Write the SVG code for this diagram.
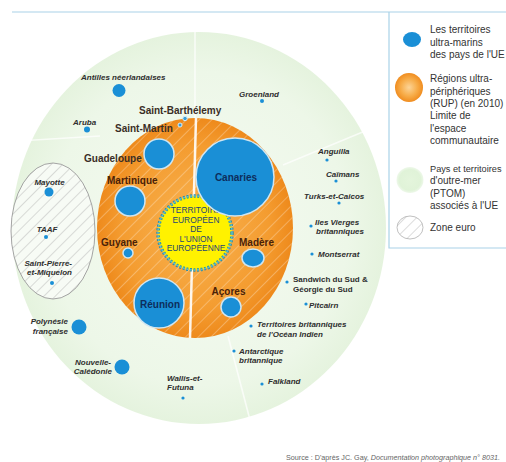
<svg xmlns="http://www.w3.org/2000/svg" width="506" height="462" viewBox="0 0 506 462">
<defs>
<radialGradient id="gGreen" cx="50%" cy="50%" r="50%">
<stop offset="0" stop-color="#f5fbf2"/>
<stop offset="0.8" stop-color="#edf7e8"/>
<stop offset="1" stop-color="#e5f3de"/>
</radialGradient>
<radialGradient id="gOrange" cx="50%" cy="50%" r="50%">
<stop offset="0" stop-color="#f8b453"/>
<stop offset="0.75" stop-color="#f49c30"/>
<stop offset="1" stop-color="#ee8a1c"/>
</radialGradient>
<radialGradient id="gOrangeLeg" cx="50%" cy="50%" r="50%">
<stop offset="0" stop-color="#fcd497"/>
<stop offset="0.6" stop-color="#f7ac48"/>
<stop offset="1" stop-color="#f08d20"/>
</radialGradient>
<radialGradient id="gGreenLeg" cx="50%" cy="50%" r="50%">
<stop offset="0" stop-color="#e4f5dc"/>
<stop offset="0.8" stop-color="#e0f3d8"/>
<stop offset="1" stop-color="#eef8ea"/>
</radialGradient>
<pattern id="hatchW" width="9" height="9" patternUnits="userSpaceOnUse" patternTransform="rotate(45)">
<line x1="0" y1="0" x2="0" y2="9" stroke="#ffffff" stroke-opacity="0.45" stroke-width="1.2"/>
</pattern>
<pattern id="hatchG" width="8" height="8" patternUnits="userSpaceOnUse" patternTransform="rotate(45)">
<line x1="0" y1="0" x2="0" y2="8" stroke="#a8a8a8" stroke-width="0.8"/>
</pattern>
</defs>
<style>
.it{font-family:"Liberation Sans",Arial,sans-serif;font-style:italic;font-weight:bold;font-size:8px;fill:#2e2e2e}
.up{font-family:"Liberation Sans",Arial,sans-serif;font-weight:bold;font-size:8px;fill:#2e2e2e}
.bd{font-family:"Liberation Sans",Arial,sans-serif;font-weight:bold;font-size:10px;fill:#3a2e26}
.br{font-family:"Liberation Sans",Arial,sans-serif;font-weight:bold;font-size:10px;fill:#4a2208}
.nv{font-family:"Liberation Sans",Arial,sans-serif;font-weight:bold;font-size:10px;fill:#0d2d5c}
.eu{font-family:"Liberation Sans",Arial,sans-serif;font-size:8.4px;fill:#1d4575;text-anchor:middle}
.lg{font-family:"Liberation Sans",Arial,sans-serif;font-size:10px;fill:#333333}
.lgs{font-family:"Liberation Sans",Arial,sans-serif;font-size:9.2px;fill:#333333}
.src{font-family:"Liberation Sans",Arial,sans-serif;font-size:7.2px;fill:#666666}
.big{fill:#1a8fd6;stroke:#cfe6f2;stroke-width:1.5}
.dot{fill:#1a8fd6}
.sm{fill:#3a9fd8}
.div{stroke:#ffffff;stroke-width:1.6;stroke-opacity:0.7;fill:none}
</style>

<rect width="506" height="462" fill="#ffffff"/>

<!-- frame lines -->
<g id="frame" stroke="#a9d2e8" stroke-width="1.2" fill="none">
<line x1="12" y1="12" x2="506" y2="12"/>
<polyline points="389,12 389,248 506,248"/>
</g>

<!-- PTOM green disc -->
<g id="ptom">
<ellipse cx="199" cy="228" rx="187" ry="196" fill="url(#gGreen)"/>
</g>

<!-- sector dividers -->
<g id="connectors">
<line class="div" x1="195" y1="30" x2="195" y2="120"/>
<line class="div" x1="18" y1="141" x2="100" y2="136"/>
<line class="div" x1="283" y1="165" x2="382" y2="124"/>
<line class="div" x1="228" y1="336" x2="250" y2="420"/>
</g>

<!-- Zone euro hatched ellipse -->
<g id="zone-euro">
<ellipse cx="53" cy="231" rx="42" ry="68" fill="#f7fbf5"/>
<ellipse cx="53" cy="231" rx="42" ry="68" fill="url(#hatchG)" stroke="#9a9a9a" stroke-width="0.9"/>
</g>

<!-- RUP orange ellipse -->
<g id="rup">
<ellipse cx="195" cy="228" rx="98" ry="110" fill="url(#gOrange)"/>
<ellipse cx="195" cy="228" rx="98" ry="110" fill="url(#hatchW)"/>
<line x1="196" y1="118" x2="190" y2="338" stroke="#ffffff" stroke-width="2.5" stroke-opacity="0.9"/>
</g>

<!-- EU territory -->
<g id="eu">
<circle cx="195" cy="233" r="37" fill="#fff200" stroke="#2f8fa8" stroke-width="3.5" stroke-dasharray="2 1.6"/>
<circle cx="195" cy="233" r="37" fill="none" stroke="#5cc0c8" stroke-width="1.5" stroke-dasharray="2 1.6"/>
<text class="eu" x="196" y="213">TERRITOIRE</text>
<text class="eu" x="196" y="222.5">EUROPÉEN</text>
<text class="eu" x="196" y="232">DE</text>
<text class="eu" x="196" y="241.5">L'UNION</text>
<text class="eu" x="196" y="251">EUROPÉENNE</text>
</g>

<!-- RUP nodes -->
<g id="canaries"><circle class="big" cx="235" cy="177" r="39"/><text class="nv" x="236" y="180.5" text-anchor="middle">Canaries</text></g>
<g id="guadeloupe"><circle class="big" cx="159" cy="154" r="15"/><text class="bd" x="84" y="162">Guadeloupe</text></g>
<g id="martinique"><circle class="big" cx="130" cy="201" r="15"/><text class="br" x="107" y="184">Martinique</text></g>
<g id="guyane"><circle class="big" cx="128" cy="253" r="5"/><text class="br" x="101" y="245.5">Guyane</text></g>
<g id="reunion"><circle class="big" cx="159" cy="303" r="25"/><text class="nv" x="160" y="307.5" text-anchor="middle">Réunion</text></g>
<g id="madere"><ellipse class="big" cx="253" cy="258" rx="11" ry="9"/><text class="br" x="256.5" y="245.5" text-anchor="middle">Madère</text></g>
<g id="acores"><circle class="big" cx="231" cy="307" r="10"/><text class="br" x="228.5" y="295" text-anchor="middle">Açores</text></g>
<g id="saint-barthelemy"><circle class="sm" cx="185" cy="118.5" r="2.2" stroke="#d6ecf6" stroke-width="1"/><text class="bd" x="139" y="113.5">Saint-Barthélemy</text></g>
<g id="saint-martin"><circle class="sm" cx="180" cy="125" r="2" stroke="#d6ecf6" stroke-width="1"/><text class="bd" x="115" y="132">Saint-Martin</text></g>

<!-- PTOM nodes -->
<g id="antilles-neerlandaises"><circle class="dot" cx="119" cy="90.5" r="6.5"/><text class="it" x="81" y="80">Antilles néerlandaises</text></g>
<g id="aruba"><circle class="dot" cx="87" cy="129.5" r="3"/><text class="it" x="73" y="124.5">Aruba</text></g>
<g id="groenland"><circle class="dot" cx="262" cy="101" r="2"/><text class="it" x="239" y="97">Groenland</text></g>
<g id="anguilla"><circle class="dot" cx="327" cy="160" r="1.6"/><text class="it" x="318" y="154">Anguilla</text></g>
<g id="caimans"><circle class="dot" cx="336" cy="181" r="1.6"/><text class="it" x="326" y="177">Caïmans</text></g>
<g id="turks-et-caicos"><circle class="dot" cx="339" cy="203" r="1.6"/><text class="it" x="304" y="199">Turks-et-Caicos</text></g>
<g id="iles-vierges"><circle class="dot" cx="311" cy="226" r="1.6"/><text class="it" x="315" y="224.5">Iles Vierges</text><text class="it" x="316" y="234">britanniques</text></g>
<g id="montserrat"><circle class="dot" cx="312" cy="254" r="1.6"/><text class="it" x="318" y="257">Montserrat</text></g>
<g id="sandwich"><circle class="dot" cx="287" cy="282" r="1.6"/><text class="up" x="293" y="282">Sandwich du Sud &amp;</text><text class="up" x="293" y="292">Géorgie du Sud</text></g>
<g id="pitcairn"><circle class="dot" cx="306" cy="304" r="1.6"/><text class="it" x="309" y="308">Pitcairn</text></g>
<g id="territoires-britanniques"><circle class="dot" cx="251" cy="326" r="1.6"/><text class="it" x="257" y="327">Territoires britanniques</text><text class="it" x="257" y="337">de l'Océan Indien</text></g>
<g id="antarctique"><circle class="dot" cx="234" cy="351" r="1.6"/><text class="it" x="239" y="354">Antarctique</text><text class="it" x="239" y="363">britannique</text></g>
<g id="falkland"><circle class="dot" cx="262" cy="384" r="1.6"/><text class="it" x="268" y="384">Falkland</text></g>
<g id="wallis-et-futuna"><circle class="dot" cx="183" cy="398" r="1.6"/><text class="it" x="167" y="381">Wallis-et-</text><text class="it" x="167" y="390">Futuna</text></g>
<g id="nouvelle-caledonie"><circle class="dot" cx="122" cy="367" r="7.5"/><text class="it" x="111" y="364.5" text-anchor="end">Nouvelle-</text><text class="it" x="112" y="373.5" text-anchor="end">Calédonie</text></g>
<g id="polynesie"><circle class="dot" cx="79" cy="327" r="7.5"/><text class="it" x="68" y="323.5" text-anchor="end">Polynésie</text><text class="it" x="68" y="333.5" text-anchor="end">française</text></g>
<g id="mayotte"><circle class="dot" cx="49" cy="192" r="4.5"/><text class="it" x="49.5" y="184.5" text-anchor="middle">Mayotte</text></g>
<g id="taaf"><circle class="dot" cx="46" cy="237" r="2"/><text class="it" x="47" y="232" text-anchor="middle">TAAF</text></g>
<g id="saint-pierre-et-miquelon"><circle class="dot" cx="52" cy="283" r="2"/><text class="it" x="72" y="265.5" text-anchor="end">Saint-Pierre-</text><text class="it" x="72" y="274.5" text-anchor="end">et-Miquelon</text></g>

<!-- Legend -->
<g id="legend-ue">
<ellipse cx="412" cy="39.5" rx="9" ry="7.5" fill="#1a8fd6"/>
<text class="lg" x="430" y="33">Les territoires</text>
<text class="lg" x="430" y="45.5">ultra-marins</text>
<text class="lg" x="430" y="58">des pays de l'UE</text>
</g>
<g id="legend-rup">
<ellipse cx="409" cy="87.5" rx="14" ry="14.5" fill="url(#gOrangeLeg)"/>
<text class="lg" x="430" y="82">Régions ultra-</text>
<text class="lg" x="430" y="94.5">périphériques</text>
<text class="lg" x="430" y="107">(RUP) (en 2010)</text>
<text class="lg" x="430" y="119">Limite de</text>
<text class="lg" x="430" y="131.5">l'espace</text>
<text class="lg" x="430" y="144">communautaire</text>
</g>
<g id="legend-ptom">
<ellipse cx="410" cy="180" rx="13.5" ry="13" fill="url(#gGreenLeg)"/>
<text class="lgs" x="430" y="171.5">Pays et territoires</text>
<text class="lg" x="430" y="184">d'outre-mer</text>
<text class="lg" x="430" y="196.5">(PTOM)</text>
<text class="lg" x="430" y="209">associés à l'UE</text>
</g>
<g id="legend-euro">
<ellipse cx="410" cy="227.5" rx="13" ry="11.5" fill="#ffffff"/>
<ellipse cx="410" cy="227.5" rx="13" ry="11.5" fill="url(#hatchG)" stroke="#b0b0b0" stroke-width="0.8"/>
<text class="lg" x="430" y="231">Zone euro</text>
</g>

<g id="source">
<text class="src" x="286" y="460">Source : D'après JC. Gay, <tspan font-style="italic">Documentation photographique n° 8031.</tspan></text>
</g>
</svg>
